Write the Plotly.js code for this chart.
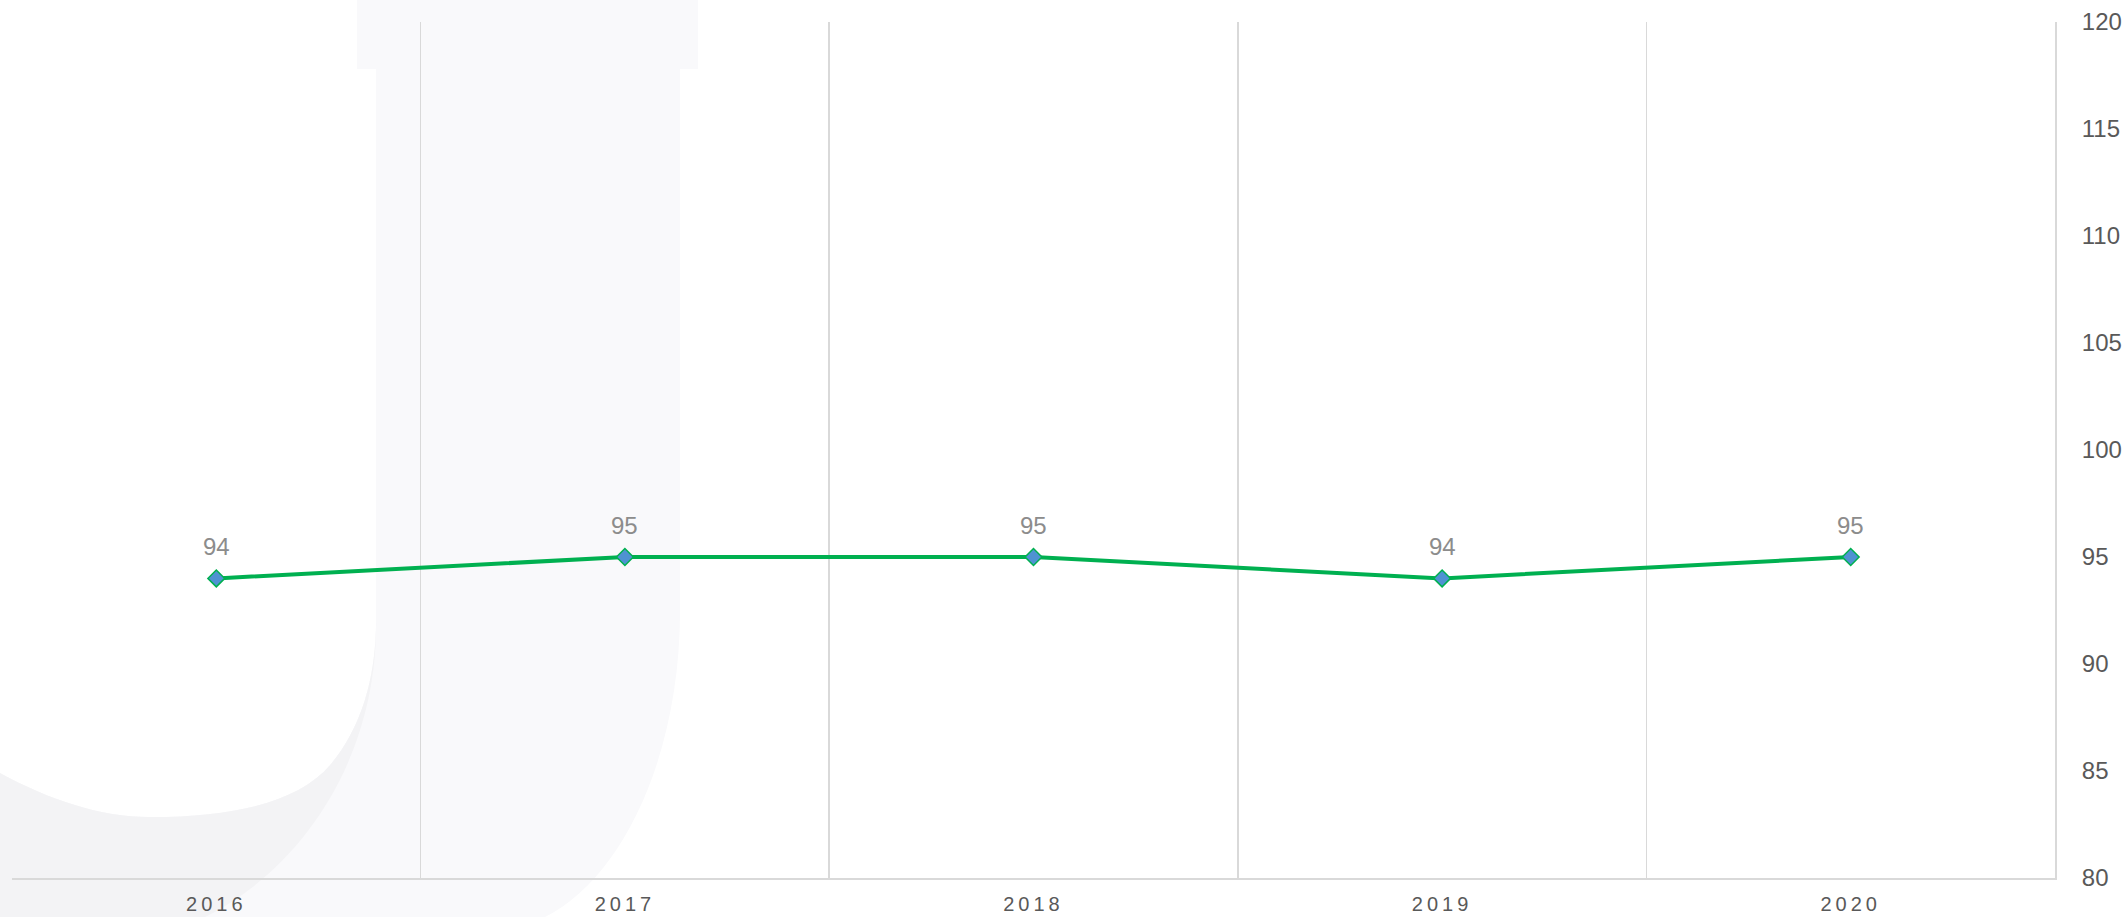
<!DOCTYPE html>
<html>
<head>
<meta charset="utf-8">
<script src="https://cdn.plot.ly/plotly-3.0.1.min.js"></script>
<style>
  html, body { margin: 0; padding: 0; background: #ffffff; }
  #chart { width: 2126px; height: 917px; }
  #chart .xtick text { letter-spacing: 4px; }
</style>
</head>
<body>
<div id="chart"></div>
<script>
// ---- data ----
const years = ["2016", "2017", "2018", "2019", "2020"];
const values = [94, 95, 95, 94, 95];
const yTickVals = [80, 85, 90, 95, 100, 105, 110, 115, 120];

// ---- layout helpers (pixel -> paper, for the faint background watermark only) ----
const W = 2126, H = 917, ML = 12, MR = 71, MT = 22, MB = 39;
const PW = W - ML - MR, PH = H - MT - MB;
function px(x) { return ((x - ML) / PW).toFixed(4); }
function py(y) { return ((H - MB - y) / PH).toFixed(4); }
function P(x, y) { return px(x) + "," + py(y); }

const jPath = "M " + P(357, 0) + " L " + P(698, 0) + " L " + P(698, 69) + " L " + P(680, 69) +
  " L " + P(680, 610) + " C " + P(680, 760) + " " + P(620, 880) + " " + P(545, 917) +
  " L " + P(0, 917) + " L " + P(0, 773) + " C " + P(50, 800) + " " + P(100, 817) + " " + P(150, 817) +
  " C " + P(240, 817) + " " + P(300, 800) + " " + P(330, 765) +
  " C " + P(360, 730) + " " + P(376, 680) + " " + P(376, 620) +
  " L " + P(376, 69) + " L " + P(357, 69) + " Z";

const hookPath = "M " + P(0, 773) + " C " + P(50, 800) + " " + P(100, 817) + " " + P(150, 817) +
  " C " + P(240, 817) + " " + P(300, 800) + " " + P(330, 765) +
  " C " + P(360, 730) + " " + P(376, 680) + " " + P(376, 620) +
  " C " + P(378, 760) + " " + P(300, 870) + " " + P(205, 917) +
  " L " + P(0, 917) + " Z";

const trace = {
  type: "scatter",
  mode: "lines+markers",
  x: years,
  y: values,
  line: { color: "#00b050", width: 4 },
  marker: { symbol: "diamond", size: 13, color: "#4f92d2", line: { color: "#00b050", width: 1.5 } },
  cliponaxis: false,
  hoverinfo: "skip"
};

// data labels: positioned by category index on the category axis
const labelAnnotations = years.map((yr, i) => ({
  x: i, y: values[i], xref: "x", yref: "y",
  text: String(values[i]),
  showarrow: false,
  yshift: 32,
  font: { family: "Liberation Sans, Arial, sans-serif", size: 24, color: "#8c8c8c" }
}));

const layout = {
  width: W, height: H,
  margin: { l: ML, r: MR, t: MT, b: MB, pad: 0 },
  paper_bgcolor: "rgba(0,0,0,0)",
  plot_bgcolor: "rgba(0,0,0,0)",
  showlegend: false,
  font: { family: "Liberation Sans, Arial, sans-serif", color: "#595959" },
  xaxis: {
    type: "category",
    range: [-0.5, 4.5],
    tickson: "boundaries",
    showgrid: true,
    gridcolor: "#d9d9d9",
    gridwidth: 1.5,
    showline: true,
    linecolor: "#d9d9d9",
    linewidth: 2,
    ticks: "",
    ticklabelstandoff: 7,
    tickfont: { size: 20, color: "#595959" },
    zeroline: false,
    fixedrange: true
  },
  yaxis: {
    side: "right",
    range: [80, 120],
    tickvals: yTickVals,
    ticktext: yTickVals.map(String),
    showgrid: false,
    zeroline: false,
    showline: true,
    linecolor: "#d9d9d9",
    linewidth: 2,
    ticks: "",
    ticklabelstandoff: 20,
    tickfont: { size: 24, color: "#595959" },
    fixedrange: true
  },
  annotations: labelAnnotations,
  shapes: [
    { type: "path", xref: "paper", yref: "paper", path: jPath, layer: "below",
      fillcolor: "#f9f9fb", line: { width: 0 } },
    { type: "path", xref: "paper", yref: "paper", path: hookPath, layer: "below",
      fillcolor: "#f3f3f5", line: { width: 0 } }
  ]
};

Plotly.newPlot("chart", [trace], layout, { displayModeBar: false, staticPlot: true });
</script>
</body>
</html>
